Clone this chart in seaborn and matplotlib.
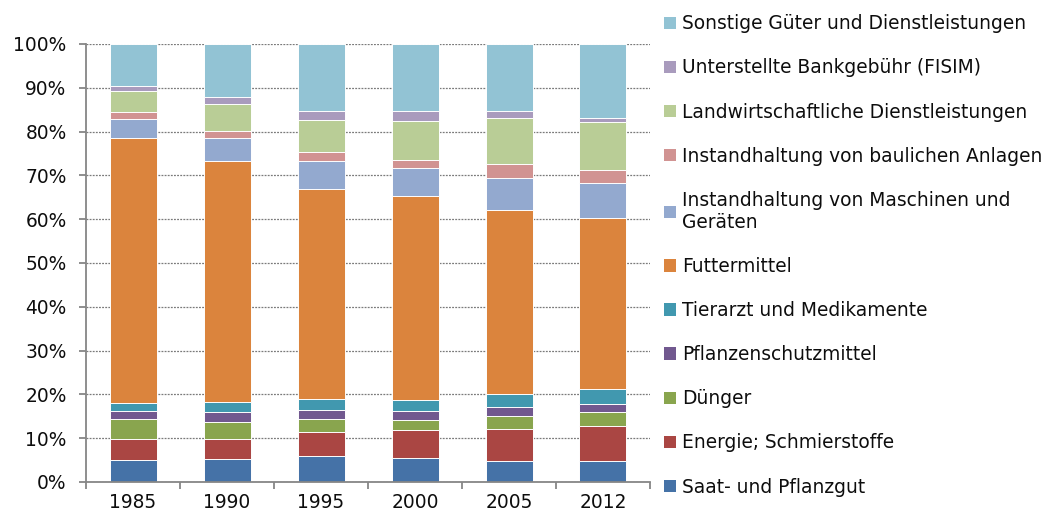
import pandas as pd
import matplotlib.pyplot as plt
import seaborn as sns
from matplotlib.patches import Patch
from matplotlib.ticker import FixedLocator, PercentFormatter

years = ['1985', '1990', '1995', '2000', '2005', '2012']

# Shares in percent, listed from the bottom of the bar upwards
saatgut = [5.0, 5.2, 6.0, 5.4, 4.8, 4.8]
energie = [4.9, 4.7, 5.4, 6.4, 7.2, 7.9]
duenger = [4.5, 3.9, 2.9, 2.3, 3.1, 3.3]
pflanzenschutz = [1.9, 2.2, 2.1, 2.1, 2.0, 1.9]
tierarzt = [1.7, 2.2, 2.5, 2.5, 3.0, 3.3]
futtermittel = [60.5, 55.0, 48.1, 46.7, 42.1, 39.0]
maschinen = [4.3, 5.3, 6.2, 6.2, 7.3, 8.0]
bauliche = [1.6, 1.7, 2.2, 1.8, 3.1, 3.1]
landw_dienst = [4.9, 6.2, 7.3, 9.0, 10.5, 10.8]
fisim = [1.0, 1.4, 2.1, 2.3, 1.5, 1.1]
sonstige = [9.7, 12.2, 15.2, 15.3, 15.4, 16.8]

labels = [
    'Saat- und Pflanzgut',
    'Energie; Schmierstoffe',
    'Dünger',
    'Pflanzenschutzmittel',
    'Tierarzt und Medikamente',
    'Futtermittel',
    'Instandhaltung von Maschinen und\nGeräten',
    'Instandhaltung von baulichen Anlagen',
    'Landwirtschaftliche Dienstleistungen',
    'Unterstellte Bankgebühr (FISIM)',
    'Sonstige Güter und Dienstleistungen',
]
series = [saatgut, energie, duenger, pflanzenschutz, tierarzt, futtermittel,
          maschinen, bauliche, landw_dienst, fisim, sonstige]
colors = ['#4572A7', '#AA4643', '#89A54E', '#71588F', '#4198AF', '#DB843D',
          '#93A9CF', '#D19392', '#B9CD96', '#A99BBD', '#92C3D4']

df = pd.DataFrame(dict(zip(labels, series)), index=years)
df = df.div(df.sum(axis=1), axis=0) * 100  # 100% stacked
cum = df.cumsum(axis=1)

sns.set_style('white')
plt.rcParams['font.family'] = ['DejaVu Sans']
font_size = 13.4
text_color = '#0d0d0d'

fig, ax = plt.subplots(figsize=(10.44, 5.2), dpi=100)
fig.subplots_adjust(left=0.0824, right=0.6226, bottom=0.0731, top=0.9154)

# draw cumulative totals from the top down so shorter bars sit in front
for label, color in reversed(list(zip(labels, colors))):
    sns.barplot(x=cum.index, y=cum[label].values, color=color, width=0.5,
                saturation=1, edgecolor='white', linewidth=0.7, ax=ax)

ax.set_ylim(0, 100)
ax.set_xlim(-0.5, len(years) - 0.5)
ax.yaxis.set_major_locator(FixedLocator(range(0, 101, 10)))
ax.yaxis.set_major_formatter(PercentFormatter(decimals=0))
ax.set_axisbelow(True)
ax.grid(axis='y', color='#7a7a7a', linestyle=(0, (1.5, 1)), linewidth=0.9)
ax.grid(axis='x', visible=False)

for side in ['top', 'right']:
    ax.spines[side].set_visible(False)
for side in ['left', 'bottom']:
    ax.spines[side].set_color('#868686')
    ax.spines[side].set_linewidth(1.3)

ax.set_xlabel('')
ax.set_ylabel('')
ax.tick_params(axis='y', which='major', left=True, length=5, width=1.3,
               color='#868686', pad=9, labelsize=font_size, labelcolor=text_color)
ax.xaxis.set_minor_locator(FixedLocator([i - 0.5 for i in range(len(years) + 1)]))
ax.tick_params(axis='x', which='major', length=0, pad=8, labelsize=font_size,
               labelcolor=text_color)
ax.tick_params(axis='x', which='minor', bottom=True, length=5, width=1.3,
               color='#868686')

handles = [Patch(facecolor=c, edgecolor='none', label=l)
           for l, c in reversed(list(zip(labels, colors)))]
fig.legend(handles=handles, loc='upper left', bbox_to_anchor=(0.636, 0.9725),
           frameon=False, fontsize=font_size, labelcolor=text_color,
           handlelength=0.65, handleheight=0.65, handletextpad=0.3,
           labelspacing=1.35, borderpad=0, borderaxespad=0)

fig.savefig('out.png', dpi=100)
